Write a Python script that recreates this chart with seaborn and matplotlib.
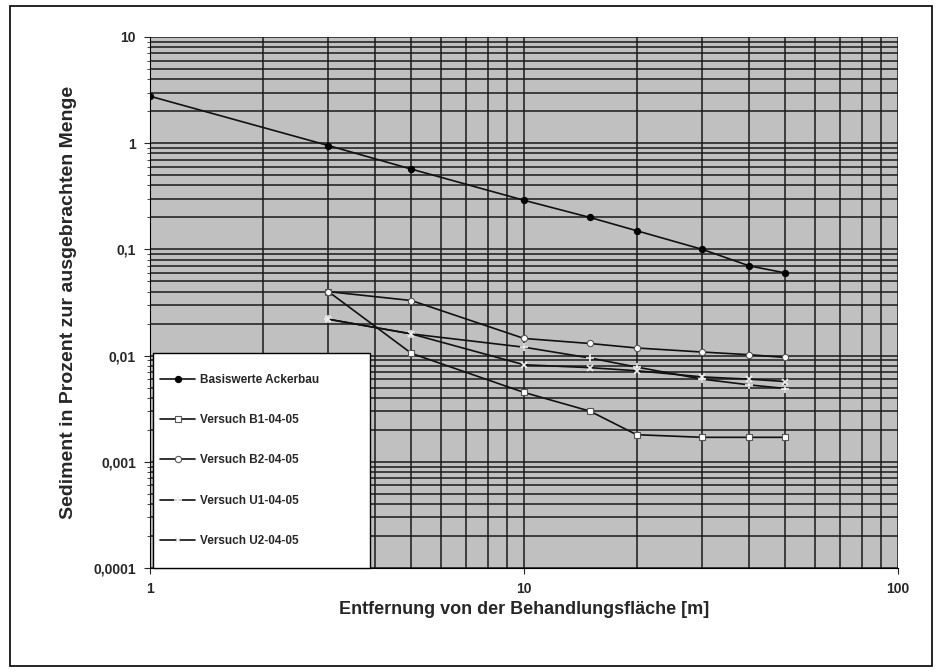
import numpy as np
import pandas as pd
import seaborn as sns
import matplotlib.pyplot as plt
from matplotlib.patches import Rectangle
from matplotlib.ticker import FixedLocator, LogLocator, NullFormatter

sns.set_style("white")
plt.rcParams['font.family'] = ['Liberation Sans', 'DejaVu Sans']
plt.rcParams['font.weight'] = 'bold'

# Daten
dist_basis = [1, 3, 5, 10, 15, 20, 30, 40, 50]
basis = [2.77, 0.95, 0.57, 0.29, 0.20, 0.15, 0.10, 0.07, 0.06]

dist_versuch = [3, 5, 10, 15, 20, 30, 40, 50]
b1 = [0.040, 0.0105, 0.0045, 0.0030, 0.0018, 0.0017, 0.0017, 0.0017]
b2 = [0.040, 0.033, 0.0145, 0.013, 0.0118, 0.0108, 0.0102, 0.0096]
u1 = [0.022, 0.016, 0.012, 0.0095, 0.0078, 0.0060, 0.0053, 0.0049]
u2 = [0.022, 0.016, 0.0082, 0.0077, 0.0072, 0.0063, 0.0060, 0.0057]

labels = ['Basiswerte Ackerbau', 'Versuch B1-04-05', 'Versuch B2-04-05',
          'Versuch U1-04-05', 'Versuch U2-04-05']

y_ticks = [0.0001, 0.001, 0.01, 0.1, 1, 10]
y_tick_labels = ['0,0001', '0,001', '0,01', '0,1', '1', '10']
x_ticks = [1, 10, 100]
x_tick_labels = ['1', '10', '100']

fig = plt.figure(figsize=(9.4, 6.72), dpi=100)
ax = fig.add_axes([150 / 940, 1 - 568 / 672, 748 / 940, 531 / 672])
ax.set_facecolor('#c0c0c0')

# Rahmen um die ganze Grafik
fig.patches.append(Rectangle((10 / 940, 6 / 672), 922 / 940, 660 / 672,
                             transform=fig.transFigure, fill=False,
                             edgecolor='black', linewidth=1.2))

series = [
    (dist_basis, basis, dict(marker='o', markersize=4.5, markerfacecolor='black',
                             markeredgecolor='black')),
    (dist_versuch, b1, dict(marker='s', markersize=4.5, markerfacecolor='white',
                            markeredgecolor='#555555', markeredgewidth=0.8)),
    (dist_versuch, b2, dict(marker='o', markersize=4.5, markerfacecolor='white',
                            markeredgecolor='#555555', markeredgewidth=0.8)),
    (dist_versuch, u1, dict(marker='+', markersize=6, markeredgecolor='#f0f0f0',
                            markeredgewidth=1.2)),
    (dist_versuch, u2, dict(marker='x', markersize=5, markeredgecolor='#f0f0f0',
                            markeredgewidth=1.2)),
]

for (xs, ys, style), lab in zip(series, labels):
    df = pd.DataFrame({'x': xs, 'y': ys})
    sns.lineplot(data=df, x='x', y='y', ax=ax, color='#111111', linewidth=1.2,
                 label=lab, **style)

ax.set_xscale('log')
ax.set_yscale('log')
ax.set_xlim(1, 100)
ax.set_ylim(0.0001, 10)

ax.xaxis.set_major_locator(FixedLocator(x_ticks))
ax.set_xticklabels(x_tick_labels)
ax.xaxis.set_minor_locator(LogLocator(base=10, subs=np.arange(2, 10)))
ax.xaxis.set_minor_formatter(NullFormatter())
ax.yaxis.set_major_locator(FixedLocator(y_ticks))
ax.set_yticklabels(y_tick_labels)
ax.yaxis.set_minor_locator(LogLocator(base=10, subs=np.arange(2, 10)))
ax.yaxis.set_minor_formatter(NullFormatter())

ax.grid(which='both', color='#1a1a1a', linewidth=1.1)
ax.set_axisbelow(True)
ax.tick_params(axis='both', which='major', labelsize=10, length=4, direction='out',
               left=True, bottom=True, pad=6)
ax.tick_params(axis='y', which='minor', length=2, left=True)
for lab in ax.get_xticklabels() + ax.get_yticklabels():
    lab.set_fontweight('bold')

for side in ['top', 'right']:
    ax.spines[side].set_visible(False)
ax.spines['left'].set_color('black')
ax.spines['bottom'].set_color('black')

ax.set_xlabel('Entfernung von der Behandlungsfläche [m]', fontsize=13,
              fontweight='bold', labelpad=4)
ax.set_ylabel('Sediment in Prozent zur ausgebrachten Menge', fontsize=14,
              fontweight='bold', labelpad=12)

# Legendenkasten (weiss, schwarzer Rand) separat, damit Abstaende passen
ax.add_patch(Rectangle((0.004, 0.0), 0.29, 0.405, transform=ax.transAxes,
                       facecolor='white', edgecolor='black', linewidth=1.0,
                       zorder=4.5, clip_on=False))
leg = ax.legend(loc='upper left', bbox_to_anchor=(0.0134, 0.366), fontsize=8.5,
                frameon=False, labelspacing=2.4, handlelength=3.0, borderpad=0,
                borderaxespad=0, handletextpad=0.4)
for t in leg.get_texts():
    t.set_fontweight('bold')

fig.savefig('out.png', dpi=100, facecolor='white')
